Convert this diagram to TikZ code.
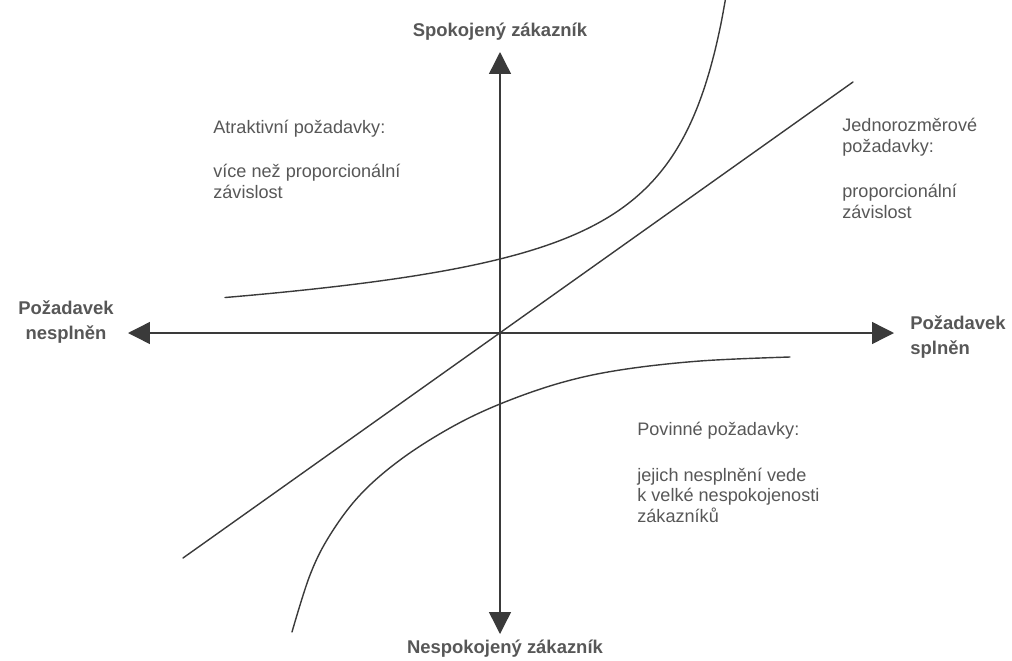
\documentclass[tikz,border=0pt]{standalone}
\usepackage{fontspec}
\setmainfont{Liberation Sans}
\usetikzlibrary{arrows.meta}
\definecolor{ink}{HTML}{3A3A3A}
\definecolor{txt}{HTML}{575757}
\begin{document}
\begin{tikzpicture}[x=0.02cm, y=-0.02cm, line join=round, line cap=round,
	axis/.style={ink, line width=0.8pt, {Triangle[width=0.44cm, length=0.44cm]}-{Triangle[width=0.44cm, length=0.44cm]}},
	curve/.style={ink, line width=0.8pt},
	lbl/.style={txt, font=\bfseries\fontsize{10.5}{14}\selectfont, inner sep=0pt},
	note/.style={txt, font=\fontsize{10.3}{11.4}\selectfont, align=left, anchor=base west, inner sep=0pt}]
	\useasboundingbox (0,0) rectangle (1012,660);
	\path (500,333) coordinate (O)
	(128,333) coordinate (L)
	(894,333) coordinate (R)
	(500,52) coordinate (T)
	(500,634) coordinate (B)
	(183,558) coordinate (D1)
	(853,82) coordinate (D2);
	
	% axes
	\draw[axis] (L) -- (R);
	\draw[axis] (B) -- (T);
	
	% linear requirement
	\draw[curve] (D1) -- (D2);
	
	% attractive and must-be curves
	\draw[curve] plot[domain=225:727, samples=90, smooth] (\x, {320.1 - 171.09/((780-\x)/100) - 0.03*(\x-500)});
	\draw[curve] plot[smooth, tension=0.6] coordinates {(292,632) (310,575) (330,535) (360,495) (400,460) (450,428) (500,404) (560,383) (620,370) (700,361) (790,357)};
	
	% axis labels
	\node[lbl, anchor=base] (spok) at (500,36) {Spokojený zákazník};
	\node[lbl, anchor=center] (nespok) at (505,649) {Nespokojený zákazník};
	\node[lbl, align=center] (nespl) at (66,322) {Požadavek\\nesplněn};
	\node[lbl, align=left, anchor=west] (spl) at (910,337) {Požadavek\\splněn};
	
	% notes (base = last line)
	\node[note] (atrHead) at (213,133) {Atraktivní požadavky:};
	\node[note] (atrBody) at (213,198) {více než proporcionální\\závislost};
	\node[note] (jedHead) at (842,152) {Jednorozměrové\\požadavky:};
	\node[note] (jedBody) at (842,218) {proporcionální\\závislost};
	\node[note] (povHead) at (637,435) {Povinné požadavky:};
	\node[note] (povBody) at (637,522) {jejich nesplnění vede\\k velké nespokojenosti\\zákazníků};
\end{tikzpicture}
\end{document}
